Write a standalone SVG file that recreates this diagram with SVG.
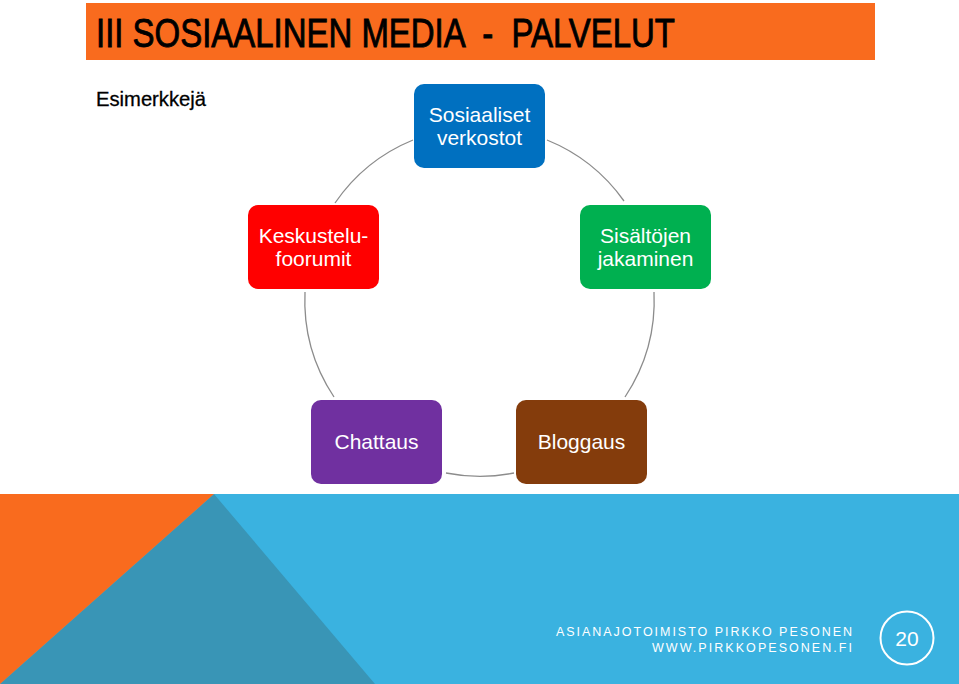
<svg xmlns="http://www.w3.org/2000/svg" width="959" height="684" viewBox="0 0 959 684">
<style>
.node-text{font-family:"Liberation Sans","DejaVu Sans",sans-serif;font-size:21px;fill:#ffffff;text-anchor:middle}
.conn{fill:none;stroke:#8c8c8c;stroke-width:1.3}
.foot{font-family:"Liberation Sans","DejaVu Sans",sans-serif;font-size:12.5px;fill:#ffffff;text-anchor:end}
</style>
<rect x="0" y="0" width="959" height="684" fill="#ffffff"/>
<g id="header">
<rect x="86" y="3" width="789" height="57" fill="#f96b1e"/>
<text x="96" y="47" xml:space="preserve" font-family="Liberation Sans Narrow,'Liberation Sans',sans-serif" font-size="40" fill="#000000" stroke="#000000" stroke-width="0.9" textLength="579" lengthAdjust="spacingAndGlyphs">III SOSIAALINEN MEDIA  -  PALVELUT</text>
<text x="96" y="106" font-family="Liberation Sans Narrow,'Liberation Sans',sans-serif" font-size="21" fill="#000000" stroke="#000000" stroke-width="0.3" textLength="110" lengthAdjust="spacingAndGlyphs">Esimerkkejä</text>
</g>
<g id="footer">
<rect x="0" y="494" width="959" height="190" fill="#3ab2e0"/>
<polygon points="214,494 375,684 0,684" fill="#3995b6"/>
<polygon points="0,494 214,494 0,684" fill="#f96b1e"/>
<text class="foot" x="852" y="636" textLength="296" lengthAdjust="spacing">ASIANAJOTOIMISTO PIRKKO PESONEN</text>
<text class="foot" x="852" y="652" textLength="200" lengthAdjust="spacing">WWW.PIRKKOPESONEN.FI</text>
<circle cx="907" cy="638" r="26.5" fill="none" stroke="#ffffff" stroke-width="2"/>
<text x="907" y="646" font-family="'Liberation Sans',sans-serif" font-size="21" fill="#ffffff" text-anchor="middle">20</text>
</g>
<g id="connectors">
<path class="conn" d="M335,203 A175,175 0 0 1 413,140"/>
<path class="conn" d="M547,140 A175,175 0 0 1 624,201"/>
<path class="conn" d="M654,292 A175,175 0 0 1 625,397"/>
<path class="conn" d="M514,473 A175,175 0 0 1 446,473"/>
<path class="conn" d="M334,397 A175,175 0 0 1 305,292"/>
</g>
<g id="node-sosiaaliset">
<rect x="414" y="84" width="131" height="84" rx="10" fill="#0070c0"/>
<text class="node-text" x="479.5" y="122">Sosiaaliset</text>
<text class="node-text" x="479.5" y="145">verkostot</text>
</g>
<g id="node-sisaltojen">
<rect x="580" y="205" width="131" height="84" rx="10" fill="#00b050"/>
<text class="node-text" x="645.5" y="243">Sisältöjen</text>
<text class="node-text" x="645.5" y="266">jakaminen</text>
</g>
<g id="node-bloggaus">
<rect x="516" y="400" width="131" height="84" rx="10" fill="#843c0c"/>
<text class="node-text" x="581.5" y="449">Bloggaus</text>
</g>
<g id="node-chattaus">
<rect x="311" y="400" width="131" height="84" rx="10" fill="#7030a0"/>
<text class="node-text" x="376.5" y="449">Chattaus</text>
</g>
<g id="node-keskustelu">
<rect x="248" y="205" width="131" height="84" rx="10" fill="#ff0000"/>
<text class="node-text" x="313.5" y="243">Keskustelu-</text>
<text class="node-text" x="313.5" y="266">foorumit</text>
</g>
</svg>
